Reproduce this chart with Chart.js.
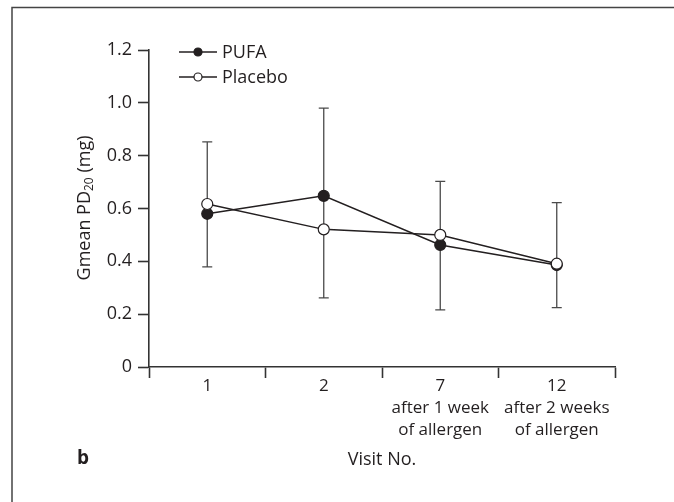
<!DOCTYPE html>
<html>
<head>
<meta charset="utf-8">
<script src="https://cdn.jsdelivr.net/npm/chart.js@4"></script>
<style>
  body { margin: 0; background: #fff; }
  canvas { display: block; }
</style>
</head>
<body>
<canvas id="pdChart" width="674" height="502"></canvas>
<script>
// data
var visits = [['1'], ['2'], ['7', 'after 1 week', 'of allergen'], ['12', 'after 2 weeks', 'of allergen']];
var pufa = [0.58, 0.648, 0.462, 0.386];
var placebo = [0.617, 0.521, 0.50, 0.391];
var errHigh = [0.852, 0.98, 0.703, 0.622];
var errLow = [0.379, 0.262, 0.216, 0.225];
var yTicks = [0, 0.2, 0.4, 0.6, 0.8, 1.0, 1.2];

var FONT = '"Open Sans", "Liberation Sans", sans-serif';
var INK = '#231f20';

// vertical error bars with caps, drawn under the lines
var errorBars = {
    id: 'errorBars',
    beforeDatasetsDraw: function (chart) {
        var ctx = chart.ctx, x = chart.scales.x, y = chart.scales.y;
        ctx.save();
        ctx.strokeStyle = '#4a4a4a';
        ctx.lineWidth = 1.3;
        for (var i = 0; i < visits.length; i++) {
            var px = x.getPixelForValue(i);
            var top = y.getPixelForValue(errHigh[i]);
            var bot = y.getPixelForValue(errLow[i]);
            ctx.beginPath();
            ctx.moveTo(px, top); ctx.lineTo(px, bot);
            ctx.moveTo(px - 5, top); ctx.lineTo(px + 5, top);
            ctx.moveTo(px - 5, bot); ctx.lineTo(px + 5, bot);
            ctx.stroke();
        }
        ctx.restore();
    }
};

// frame, legend, y title with subscript, panel letter
var decorations = {
    id: 'decorations',
    afterDraw: function (chart) {
        var ctx = chart.ctx;
        ctx.save();
        // frame (only left and top edges visible)
        ctx.strokeStyle = '#444';
        ctx.lineWidth = 1.5;
        ctx.beginPath();
        ctx.moveTo(12, 502); ctx.lineTo(12, 7.5); ctx.lineTo(674, 7.5);
        ctx.stroke();

        // legend
        var items = [['PUFA', INK, 52], ['Placebo', '#fff', 77]];
        items.forEach(function (it) {
            ctx.strokeStyle = INK;
            ctx.lineWidth = 1.5;
            ctx.beginPath();
            ctx.moveTo(179, it[2]); ctx.lineTo(217, it[2]);
            ctx.stroke();
            ctx.beginPath();
            ctx.arc(198, it[2], 4, 0, Math.PI * 2);
            ctx.fillStyle = it[1];
            ctx.fill();
            ctx.lineWidth = 1.2;
            ctx.stroke();
            ctx.fillStyle = INK;
            ctx.font = '18px ' + FONT;
            ctx.textAlign = 'left';
            ctx.textBaseline = 'middle';
            ctx.fillText(it[0], 222, it[2] + 1);
        });

        // y axis title: Gmean PD20 (mg)
        ctx.translate(83, 208);
        ctx.rotate(-Math.PI / 2);
        ctx.fillStyle = INK;
        ctx.textBaseline = 'alphabetic';
        ctx.textAlign = 'left';
        var big = '18px ' + FONT, small = '12px ' + FONT;
        ctx.font = big;
        var w1 = ctx.measureText('Gmean PD').width;
        var w3 = ctx.measureText(' (mg)').width;
        ctx.font = small;
        var w2 = ctx.measureText('20').width;
        var sx = -(w1 + w2 + w3) / 2;
        ctx.font = big;
        ctx.fillText('Gmean PD', sx, 7);
        ctx.font = small;
        ctx.fillText('20', sx + w1, 10);
        ctx.font = big;
        ctx.fillText(' (mg)', sx + w1 + w2, 7);
        ctx.setTransform(1, 0, 0, 1, 0, 0);

        // panel letter
        ctx.font = 'bold 19px ' + FONT;
        ctx.textAlign = 'center';
        ctx.textBaseline = 'middle';
        ctx.fillText('b', 83, 459);
        ctx.restore();
    }
};

var ctx = document.getElementById('pdChart').getContext('2d');
var pdChart = new Chart(ctx, {
    type: 'line',
    data: {
        labels: visits,
        datasets: [{
            label: 'Placebo',
            data: placebo,
            order: 0,
            borderColor: INK,
            borderWidth: 1.5,
            pointRadius: 5.5,
            pointBorderWidth: 1.2,
            pointBackgroundColor: '#fff',
            pointBorderColor: INK,
            tension: 0
        }, {
            label: 'PUFA',
            data: pufa,
            order: 1,
            borderColor: INK,
            borderWidth: 1.5,
            pointRadius: 5.5,
            pointBorderWidth: 1.2,
            pointBackgroundColor: INK,
            pointBorderColor: INK,
            tension: 0
        }]
    },
    options: {
        responsive: false,
        animation: false,
        layout: { padding: { top: 50, right: 59, left: 0, bottom: 0 } },
        plugins: {
            legend: { display: false },
            tooltip: { enabled: false }
        },
        scales: {
            x: {
                type: 'category',
                offset: true,
                afterFit: function (s) { s.height = 135; },
                border: { color: '#333', width: 1.6 },
                grid: {
                    offset: true,
                    drawOnChartArea: false,
                    drawTicks: true,
                    tickLength: 11,
                    tickColor: '#333',
                    tickWidth: 1.6
                },
                ticks: {
                    color: INK,
                    padding: -3.5,
                    maxRotation: 0,
                    font: { family: FONT, size: 17, lineHeight: 1.32 }
                },
                title: {
                    display: true,
                    text: 'Visit No.',
                    color: INK,
                    padding: { top: 4, bottom: 31 },
                    font: { family: FONT, size: 18 }
                }
            },
            y: {
                min: 0,
                max: 1.2,
                afterFit: function (s) { s.width = 149; },
                afterBuildTicks: function (s) {
                    s.ticks = yTicks.map(function (v) { return { value: v }; });
                },
                border: { color: '#333', width: 1.6 },
                grid: {
                    drawOnChartArea: false,
                    drawTicks: true,
                    tickLength: 11,
                    tickColor: '#333',
                    tickWidth: 1.6
                },
                ticks: {
                    color: INK,
                    padding: 6,
                    font: { family: FONT, size: 18 },
                    callback: function (v) { return v === 0 ? '0' : v.toFixed(1); }
                }
            }
        }
    },
    plugins: [errorBars, decorations]
});
</script>
</body>
</html>
